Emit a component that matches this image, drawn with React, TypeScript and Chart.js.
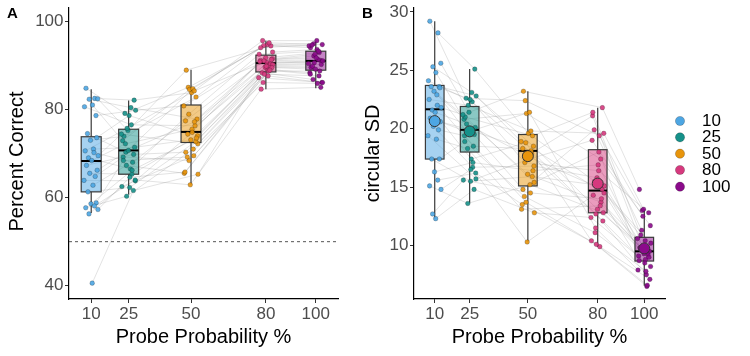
import React, { useEffect, useRef } from "react";
import { Chart, registerables } from "chart.js";

Chart.register(...registerables);

// ---------- data ----------
const probeLevels = [10, 25, 50, 80, 100];
const groupNames = ["10", "25", "50", "80", "100"];
const groupColors = ["#4DA6E3", "#16918A", "#E8950C", "#D6397E", "#8B0A8B"];

const accYTicks = [40, 60, 80, 100];
const sdYTicks = [10, 15, 20, 25, 30];

// Panel A: percent correct, one value per subject (same subject order in every array)
const acc10 = [84.8, 82.5, 82.4, 82.3, 81.0, 80.6, 78.6, 74.5, 73.6, 73.0, 71.0, 70.6, 70.2, 69.5, 69.0, 68.4, 67.3, 66.2, 65.5, 64.8, 63.9, 62.8, 61.3, 58.8, 58.6, 58.1, 57.7, 57.3, 56.3, 40.6];
const acc25 = [79.1, 82.1, 75.2, 80.4, 72.9, 76.5, 79.8, 70.3, 78.6, 73.9, 71.4, 75.7, 68.0, 74.4, 66.5, 72.2, 69.8, 70.7, 65.3, 69.2, 63.8, 67.3, 62.3, 68.4, 66.2, 64.0, 60.3, 64.6, 62.5, 61.6];
const acc50 = [85.0, 83.8, 88.9, 77.8, 84.5, 76.3, 80.8, 84.7, 74.4, 82.8, 73.1, 84.2, 77.4, 72.2, 78.9, 75.5, 70.3, 77.2, 74.0, 68.4, 74.8, 65.5, 72.7, 69.2, 73.5, 62.9, 71.0, 65.8, 69.5, 65.3];
const acc80 = [94.7, 95.6, 94.4, 91.7, 95.1, 91.1, 93.0, 94.5, 90.6, 94.0, 90.0, 91.5, 91.0, 89.1, 92.5, 90.4, 88.3, 91.3, 89.6, 87.6, 90.8, 88.7, 90.2, 86.1, 89.8, 84.6, 89.5, 88.0, 88.9, 87.2];
const acc100 = [94.9, 95.6, 94.0, 92.9, 94.7, 92.1, 93.6, 94.4, 91.1, 94.6, 90.2, 92.5, 91.3, 88.3, 93.2, 91.0, 86.8, 91.7, 89.5, 86.1, 90.6, 88.7, 90.4, 85.9, 89.8, 85.0, 89.1, 87.6, 88.0, 86.1];

const accWhiskerLow = [56.5, 60.7, 62.9, 84.6, 84.8];
const accQ1 = [61.3, 65.3, 72.5, 88.5, 88.9];
const accMedian = [68.3, 70.7, 74.9, 90.5, 91.0];
const accQ3 = [73.8, 75.5, 81.0, 92.3, 93.2];
const accWhiskerHigh = [84.6, 82.0, 89.0, 95.6, 95.6];
const chanceLevel = 50;

// Panel B: circular SD per subject
const sd10 = [29.2, 28.2, 25.6, 25.3, 24.8, 24.1, 23.6, 23.6, 23.5, 23.2, 22.9, 22.5, 22.0, 21.8, 21.6, 21.4, 20.9, 20.6, 20.2, 19.9, 19.4, 19.1, 17.4, 17.4, 16.3, 15.6, 15.1, 14.8, 12.7, 12.3];
const sd25 = [22.6, 25.1, 21.4, 23.1, 20.8, 22.3, 22.8, 19.7, 22.5, 21.0, 20.1, 22.0, 18.5, 21.2, 17.4, 20.4, 19.5, 19.9, 16.7, 19.4, 15.7, 18.3, 15.5, 18.9, 17.1, 16.2, 13.6, 16.5, 15.6, 14.8];
const sd50 = [22.4, 19.6, 23.2, 18.5, 21.3, 17.9, 18.9, 21.4, 17.1, 19.4, 16.1, 19.8, 18.3, 15.4, 18.8, 17.6, 14.8, 18.1, 16.8, 13.7, 17.4, 13.1, 15.9, 14.2, 16.4, 10.3, 15.2, 13.5, 14.5, 12.8];
const sd80 = [19.4, 15.5, 21.8, 13.1, 17.4, 21.1, 14.5, 11.5, 16.4, 21.4, 13.7, 19.6, 12.7, 18.0, 10.4, 14.8, 19.9, 12.1, 15.8, 9.9, 19.0, 13.4, 15.1, 11.1, 16.9, 14.3, 12.8, 10.1, 14.0, 12.4];
const sd100 = [13.0, 10.4, 14.8, 9.4, 11.7, 9.9, 8.8, 7.9, 12.8, 10.9, 9.5, 13.1, 7.5, 9.1, 6.5, 10.2, 11.3, 8.5, 9.8, 7.1, 12.5, 9.2, 10.6, 7.8, 9.7, 9.0, 9.3, 6.6, 8.7, 8.2];

const sdWhiskerLow = [12.3, 13.65, 10.35, 9.9, 6.55];
const sdQ1 = [17.4, 18.0, 15.1, 12.8, 8.67];
const sdMedian = [21.66, 19.9, 18.1, 14.7, 9.5];
const sdQ3 = [23.7, 21.9, 19.5, 18.2, 10.7];
const sdWhiskerHigh = [29.2, 25.1, 23.2, 21.8, 13.1];
const sdMean = [20.65, 19.77, 17.65, 15.3, 9.75];

// horizontal jitter of each subject's point (in x units)
const jitterOffsets = [-2.1, 1.4, 2.6, -0.8, 0.5, -2.7, 1.9, -1.5, 2.2, -0.3, 0.9, -2.4, 1.1, 2.8, -1.1, 0.2, -1.9, 2.4, -0.6, 1.6, -2.9, 0.7, -1.3, 2.0, -0.1, 1.3, -2.2, 2.7, -0.9, 0.4];

// ---------- helpers ----------
const FONT = '"Liberation Sans", Arial, Helvetica, sans-serif';
const X_MIN = 1.1;
const X_MAX = 108.9;
const BOX_HALF = 4;

function rgba(hex: string, a: number) {
  const n = parseInt(hex.slice(1), 16);
  return `rgba(${(n >> 16) & 255},${(n >> 8) & 255},${n & 255},${a})`;
}

function jit(s: number, k: number) {
  return jitterOffsets[(s + k * 7) % jitterOffsets.length];
}

function drawBoxes(chart: any, p: any) {
  const ctx = chart.ctx;
  const xs = chart.scales.x;
  const ys = chart.scales.y;
  ctx.save();
  probeLevels.forEach((lv, k) => {
    const cx = xs.getPixelForValue(lv);
    const x0 = xs.getPixelForValue(lv - BOX_HALF);
    const x1 = xs.getPixelForValue(lv + BOX_HALF);
    const yLo = ys.getPixelForValue(p.lo[k]);
    const yQ1 = ys.getPixelForValue(p.q1[k]);
    const yMed = ys.getPixelForValue(p.med[k]);
    const yQ3 = ys.getPixelForValue(p.q3[k]);
    const yHi = ys.getPixelForValue(p.hi[k]);
    ctx.strokeStyle = "#3a3a3a";
    ctx.lineWidth = 1.2;
    ctx.beginPath();
    ctx.moveTo(cx, yLo);
    ctx.lineTo(cx, yQ1);
    ctx.moveTo(cx, yQ3);
    ctx.lineTo(cx, yHi);
    ctx.stroke();
    ctx.fillStyle = rgba(groupColors[k], 0.5);
    ctx.fillRect(x0, yQ3, x1 - x0, yQ1 - yQ3);
    ctx.strokeRect(x0, yQ3, x1 - x0, yQ1 - yQ3);
    ctx.strokeStyle = "#000";
    ctx.lineWidth = 2;
    ctx.beginPath();
    ctx.moveTo(x0, yMed);
    ctx.lineTo(x1, yMed);
    ctx.stroke();
  });
  ctx.restore();
}

function buildChart(canvas: HTMLCanvasElement, p: any) {
  const datasets: any[] = [];
  const nSub = p.groups[0].length;
  for (let s = 0; s < nSub; s++) {
    datasets.push({
      type: "line",
      kind: "subject",
      data: probeLevels.map((lv, k) => ({ x: lv + jit(s, k), y: p.groups[k][s] })),
      borderColor: "rgba(140,140,140,0.42)",
      borderWidth: 0.6,
      pointRadius: 0,
      fill: false,
      tension: 0,
      order: 4,
    });
  }
  if (p.refLine != null) {
    datasets.push({
      type: "line",
      kind: "ref",
      data: [
        { x: X_MIN, y: p.refLine },
        { x: X_MAX, y: p.refLine },
      ],
      borderColor: "#555",
      borderWidth: 1,
      borderDash: [3, 3],
      pointRadius: 0,
      fill: false,
      order: 3,
    });
  }
  probeLevels.forEach((lv, k) => {
    datasets.push({
      type: "scatter",
      kind: "pts",
      data: p.groups[k].map((v: number, s: number) => ({ x: lv + jit(s, k), y: v })),
      backgroundColor: rgba(groupColors[k], 0.9),
      borderColor: "rgba(0,0,0,0.35)",
      borderWidth: 0.6,
      pointRadius: 2.3,
      order: 1,
    });
  });
  if (p.mean) {
    datasets.push({
      type: "scatter",
      kind: "mean",
      data: probeLevels.map((lv, k) => ({ x: lv, y: p.mean[k] })),
      backgroundColor: groupColors,
      borderColor: "#333",
      borderWidth: 1,
      pointRadius: 5.5,
      order: 0,
    });
  }

  const plugin = {
    id: "panelExtras",
    beforeDraw(chart: any) {
      chart.$boxesDone = false;
    },
    beforeDatasetDraw(chart: any, args: any) {
      const ds = chart.data.datasets[args.index];
      if (ds.kind === "pts" && !chart.$boxesDone) {
        chart.$boxesDone = true;
        drawBoxes(chart, p);
      }
    },
    afterDraw(chart: any) {
      const ctx = chart.ctx;
      const ca = chart.chartArea;
      ctx.save();
      ctx.fillStyle = "#000";
      // x title
      ctx.font = `20px ${FONT}`;
      ctx.textAlign = "center";
      ctx.textBaseline = "middle";
      ctx.fillText("Probe Probability %", (ca.left + ca.right) / 2, 337);
      // y title
      ctx.save();
      ctx.translate(p.yTitleX, p.yTitleY);
      ctx.rotate(-Math.PI / 2);
      ctx.textAlign = "center";
      ctx.textBaseline = "alphabetic";
      ctx.fillText(p.yTitle, 0, 0);
      ctx.restore();
      // panel letter
      ctx.font = `bold 15px ${FONT}`;
      ctx.textAlign = "left";
      ctx.textBaseline = "alphabetic";
      ctx.fillText(p.letter, p.letterX, 18);
      // legend
      if (p.legend) {
        const rows = [121, 137.3, 153.7, 170, 186.7];
        ctx.font = `17px ${FONT}`;
        ctx.textBaseline = "middle";
        groupNames.forEach((name, k) => {
          ctx.beginPath();
          ctx.arc(p.legendX, rows[k], 4.6, 0, Math.PI * 2);
          ctx.fillStyle = groupColors[k];
          ctx.fill();
          ctx.lineWidth = 0.6;
          ctx.strokeStyle = "rgba(0,0,0,0.35)";
          ctx.stroke();
          ctx.fillStyle = "#000";
          ctx.fillText(name, p.legendX + 22, rows[k] + 0.5);
        });
      }
      ctx.restore();
    },
  };

  const tickFont = { family: FONT, size: 17 };
  const axisCommon = {
    grid: { display: true, drawOnChartArea: false, drawTicks: true, tickLength: 4, color: "#333", lineWidth: 1 },
    border: { display: true, color: "#000", width: 1.2 },
  };

  return new Chart(canvas, {
    type: "scatter",
    data: { datasets },
    plugins: [plugin],
    options: {
      responsive: false,
      animation: false,
      events: [],
      layout: { padding: { left: 0, right: p.padRight, top: 8, bottom: 0 } },
      plugins: { legend: { display: false }, tooltip: { enabled: false }, title: { display: false } },
      scales: {
        x: {
          type: "linear",
          min: X_MIN,
          max: X_MAX,
          ...axisCommon,
          ticks: { font: tickFont, color: "#4d4d4d", padding: 1, autoSkip: false, maxRotation: 0, callback: (v: any) => String(v) },
          afterBuildTicks: (sc: any) => {
            sc.ticks = probeLevels.map((v) => ({ value: v }));
          },
          afterFit: (sc: any) => {
            sc.height = 57;
            sc.paddingLeft = 0;
            sc.paddingRight = 0;
          },
        },
        y: {
          type: "linear",
          min: p.yMin,
          max: p.yMax,
          ...axisCommon,
          ticks: { font: tickFont, color: "#4d4d4d", padding: 1.5, callback: (v: any) => String(v) },
          afterBuildTicks: (sc: any) => {
            sc.ticks = p.yTicks.map((v: number) => ({ value: v }));
          },
          afterFit: (sc: any) => {
            sc.width = p.axisWidth;
            sc.paddingTop = 0;
            sc.paddingBottom = 0;
          },
        },
      },
    },
  } as any);
}

export default function App() {
  const refA = useRef<HTMLCanvasElement>(null);
  const refB = useRef<HTMLCanvasElement>(null);

  useEffect(() => {
    const chartA = buildChart(refA.current!, {
      groups: [acc10, acc25, acc50, acc80, acc100],
      lo: accWhiskerLow,
      q1: accQ1,
      med: accMedian,
      q3: accQ3,
      hi: accWhiskerHigh,
      yMin: 37,
      yMax: 103,
      yTicks: accYTicks,
      yTitle: "Percent Correct",
      yTitleX: 22.5,
      yTitleY: 161.5,
      axisWidth: 69,
      padRight: 12,
      letter: "A",
      letterX: 7,
      refLine: chanceLevel,
      legend: false,
    });
    const chartB = buildChart(refB.current!, {
      groups: [sd10, sd25, sd50, sd80, sd100],
      lo: sdWhiskerLow,
      q1: sdQ1,
      med: sdMedian,
      q3: sdQ3,
      hi: sdWhiskerHigh,
      mean: sdMean,
      yMin: 5.42,
      yMax: 30.33,
      yTicks: sdYTicks,
      yTitle: "circular SD",
      yTitleX: 19,
      yTitleY: 153.4,
      axisWidth: 54,
      padRight: 85,
      letter: "B",
      letterX: 2,
      refLine: null,
      legend: true,
      legendX: 320,
    });
    return () => {
      chartA.destroy();
      chartB.destroy();
    };
  }, []);

  return (
    <div style={{ position: "absolute", left: 0, top: 0, width: 750, height: 356, background: "#fff" }}>
      <canvas ref={refA} width={350} height={356} style={{ position: "absolute", left: 0, top: 0 }} />
      <canvas ref={refB} width={390} height={356} style={{ position: "absolute", left: 360, top: 0 }} />
    </div>
  );
}
